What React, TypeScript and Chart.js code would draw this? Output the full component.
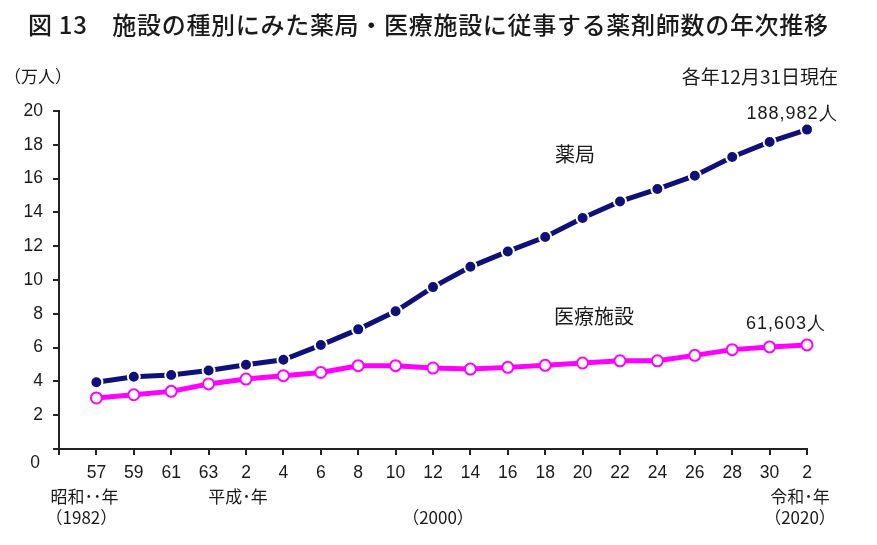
import { useEffect, useRef } from 'react';
import { Chart, registerables } from 'chart.js';

Chart.register(...registerables);

// Survey years (every 2 years, 1982–2020), shown as era years
const categories = ['57', '59', '61', '63', '2', '4', '6', '8', '10', '12', '14', '16', '18', '20', '22', '24', '26', '28', '30', '2'];
// 万人
const pharmacy = [3.95, 4.28, 4.38, 4.64, 4.98, 5.28, 6.15, 7.08, 8.15, 9.58, 10.78, 11.69, 12.54, 13.67, 14.65, 15.38, 16.17, 17.28, 18.17, 18.9];
const medical = [3.02, 3.21, 3.41, 3.85, 4.14, 4.34, 4.53, 4.93, 4.93, 4.79, 4.73, 4.83, 4.95, 5.09, 5.22, 5.22, 5.54, 5.88, 6.04, 6.16];
const seriesNames = ['薬局', '医療施設'];
const lastValueLabels = ['188,982人', '61,603人'];
const yMin = 0;
const yMax = 20;
const yStep = 2;

const titleText = '図 13\u3000施設の種別にみた薬局・医療施設に従事する薬剤師数の年次推移';
const unitText = '（万人）';
const dateText = '各年12月31日現在';

const JP = '"Noto Sans CJK JP", "Noto Sans", sans-serif';
const NUM = '"Liberation Sans", Arial, sans-serif';
const NAVY = '#10107a';
const MAGENTA = '#ff00ff';
const TEXT = '#1a1a1a';

export default function App() {
  const ref = useRef<HTMLCanvasElement | null>(null);

  useEffect(() => {
    document.body.style.margin = '0';
    const canvas = ref.current;
    if (!canvas) return;

    const textPlugin = {
      id: 'texts',
      afterDraw(chart: any) {
        const ctx = chart.ctx as CanvasRenderingContext2D;
        const xs = chart.scales.x;
        const ys = chart.scales.y;
        ctx.save();
        ctx.fillStyle = TEXT;
        ctx.textBaseline = 'middle';

        // Title stretched to span
        ctx.font = `500 24px ${JP}`;
        ctx.textAlign = 'left';
        (ctx as any).letterSpacing = '0px';
        const chars = Array.from(titleText);
        const w0 = ctx.measureText(titleText).width;
        const target = 800;
        const ls = (target - w0) / (chars.length - 1);
        (ctx as any).letterSpacing = `${ls}px`;
        ctx.fillText(titleText, 28, 25);
        (ctx as any).letterSpacing = '0px';

        // unit and date
        ctx.font = `17px ${JP}`;
        ctx.textAlign = 'left';
        ctx.fillText(unitText, 4, 77);
        ctx.font = `19px ${JP}`;
        ctx.textAlign = 'right';
        ctx.fillText(dateText, 838, 77);

        // y "0" label below axis
        ctx.font = `17.5px ${NUM}`;
        ctx.textAlign = 'right';
        ctx.fillText(String(yMin), 40, ys.getPixelForValue(yMin) + 14);

        // era labels
        ctx.font = `17px ${JP}`;
        ctx.textAlign = 'center';
        const x0 = xs.getPixelForValue(0);
        const x5 = xs.getPixelForValue(4);
        const x9 = xs.getPixelForValue(9);
        const x19 = xs.getPixelForValue(19);
        ctx.fillText('昭和･･年', x0 - 12, 497);
        ctx.fillText('（1982）', x0 - 15, 518);
        ctx.fillText('平成･年', x5 - 8, 497);
        ctx.fillText('（2000）', x9 + 5, 518);
        ctx.fillText('令和･年', x19 - 7, 497);
        ctx.fillText('（2020）', x19 - 7, 518);

        // series labels
        ctx.font = `20px ${JP}`;
        ctx.fillText(seriesNames[0], 575, 154);
        ctx.fillText(seriesNames[1], 594, 316);

        // last value labels
        ctx.font = `18px ${NUM}`;
        (ctx as any).letterSpacing = '1px';
        const lastIdx = pharmacy.length - 1;
        const px = xs.getPixelForValue(lastIdx);
        ctx.fillText(lastValueLabels[0], px - 15, ys.getPixelForValue(pharmacy[lastIdx]) - 16);
        ctx.fillText(lastValueLabels[1], px - 21, ys.getPixelForValue(medical[lastIdx]) - 21);
        (ctx as any).letterSpacing = '0px';
        ctx.restore();
      },
    };

    const chart = new Chart(canvas, {
      type: 'line',
      data: {
        datasets: [
          {
            label: seriesNames[0],
            data: pharmacy.map((v, i) => ({ x: i, y: v })),
            borderColor: NAVY,
            borderWidth: 5,
            pointRadius: 6,
            pointBorderWidth: 2,
            pointBackgroundColor: NAVY,
            pointBorderColor: '#ffffff',
            tension: 0,
            clip: false as any,
          },
          {
            label: seriesNames[1],
            data: medical.map((v, i) => ({ x: i, y: v })),
            borderColor: MAGENTA,
            borderWidth: 5,
            pointRadius: 5.5,
            pointBorderWidth: 2,
            pointBackgroundColor: '#ffffff',
            pointBorderColor: MAGENTA,
            tension: 0,
            clip: false as any,
          },
        ],
      },
      options: {
        responsive: false,
        animation: false,
        layout: { padding: { left: 0, top: 111, right: 70, bottom: 0 } },
        plugins: {
          legend: { display: false },
          title: { display: false },
          tooltip: { enabled: false },
        },
        scales: {
          x: {
            type: 'linear',
            min: -1,
            max: categories.length - 1,
            afterFit: (s: any) => { s.height = 96; },
            afterBuildTicks: (s: any) => {
              const t = [];
              for (let i = -1; i < categories.length; i++) t.push({ value: i });
              s.ticks = t;
            },
            ticks: {
              autoSkip: false,
              maxRotation: 0,
              padding: 8,
              color: TEXT,
              font: { family: NUM, size: 17.5 },
              callback: (v: any) => (v >= 0 ? categories[v] : ''),
            },
            grid: { drawOnChartArea: false, drawTicks: true, tickLength: 6, color: '#222', lineWidth: 2 },
            border: { display: true, color: '#222', width: 2 },
          },
          y: {
            type: 'linear',
            min: yMin,
            max: yMax,
            afterFit: (s: any) => { s.width = 59; },
            ticks: {
              stepSize: yStep,
              padding: 10,
              color: TEXT,
              font: { family: NUM, size: 17.5 },
              callback: (v: any) => (v === yMin ? '' : String(v)),
            },
            grid: { drawOnChartArea: false, drawTicks: true, tickLength: 6, color: '#222', lineWidth: 2 },
            border: { display: true, color: '#222', width: 2 },
          },
        },
      },
      plugins: [textPlugin],
    });

    return () => chart.destroy();
  }, []);

  return (
    <div style={{ width: 877, height: 545, background: '#fff' }}>
      <canvas ref={ref} width={877} height={545} style={{ width: 877, height: 545, display: 'block' }} />
    </div>
  );
}
